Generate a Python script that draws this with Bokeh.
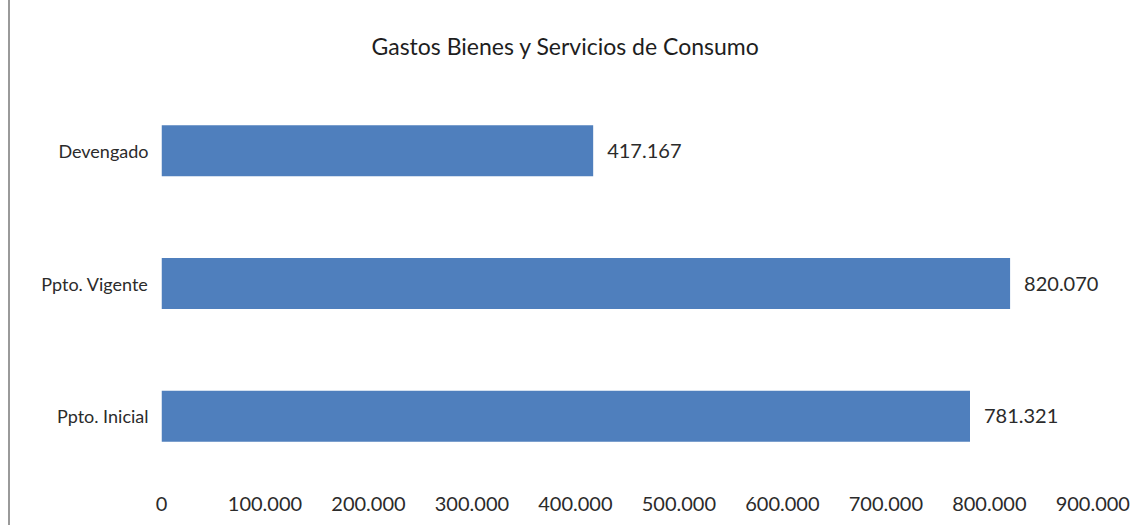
from bokeh.plotting import figure
from bokeh.models import ColumnDataSource, FactorRange, Range1d, FixedTicker, LabelSet
from bokeh.core.properties import value
from bokeh.embed import file_html
from bokeh.resources import INLINE

categories = ["Ppto. Inicial", "Ppto. Vigente", "Devengado"]
values = [781321, 820070, 417167]
tick_values = [0, 100000, 200000, 300000, 400000, 500000, 600000, 700000, 800000, 900000]
tick_labels = ["0", "100.000", "200.000", "300.000", "400.000", "500.000",
               "600.000", "700.000", "800.000", "900.000"]
value_labels = [f"{v:,}".replace(",", ".") for v in values]

FONT = "Lato"
TXT = "#2b2b2b"

source = ColumnDataSource(dict(cat=categories, val=values, lab=value_labels))

p = figure(width=1125, height=525, output_backend="svg", toolbar_location=None,
           y_range=FactorRange(*categories), x_range=Range1d(0, 920000),
           min_border_left=151, min_border_right=22, min_border_top=84, min_border_bottom=43)

p.hbar(y="cat", right="val", left=0, height=0.385, source=source,
       fill_color="#4F7FBD", line_color=None)

labels = LabelSet(x="val", y="cat", text="lab", source=source, x_offset=14,
                  text_baseline="middle", text_font=value(FONT), text_font_size="20px",
                  text_color=TXT)
p.add_layout(labels)

p.title.text = "Gastos Bienes  y Servicios de Consumo"
p.title.align = "left"
p.title.text_font = FONT
p.title.text_font_size = "23px"
p.title.text_font_style = "normal"
p.title.text_color = "#1e1e1e"
p.title.offset = 210
p.title.standoff = 50

p.xaxis.ticker = FixedTicker(ticks=tick_values)
p.xaxis.major_label_overrides = {t: l for t, l in zip(tick_values, tick_labels)}
for ax in (p.xaxis[0], p.yaxis[0]):
    ax.axis_line_color = None
    ax.major_tick_line_color = None
    ax.minor_tick_line_color = None
    ax.major_label_text_font = FONT
    ax.major_label_text_color = TXT
p.xaxis.major_label_text_font_size = "20px"
p.yaxis.major_label_text_font_size = "18px"
p.xaxis.major_label_standoff = 8
p.yaxis.major_label_standoff = 7

p.xgrid.grid_line_color = None
p.ygrid.grid_line_color = None
p.outline_line_color = None
p.styles = {"margin-left": "8px", "border-left": "2px solid #9a9a9a"}

open("out.html", "w").write(file_html(p, INLINE))
